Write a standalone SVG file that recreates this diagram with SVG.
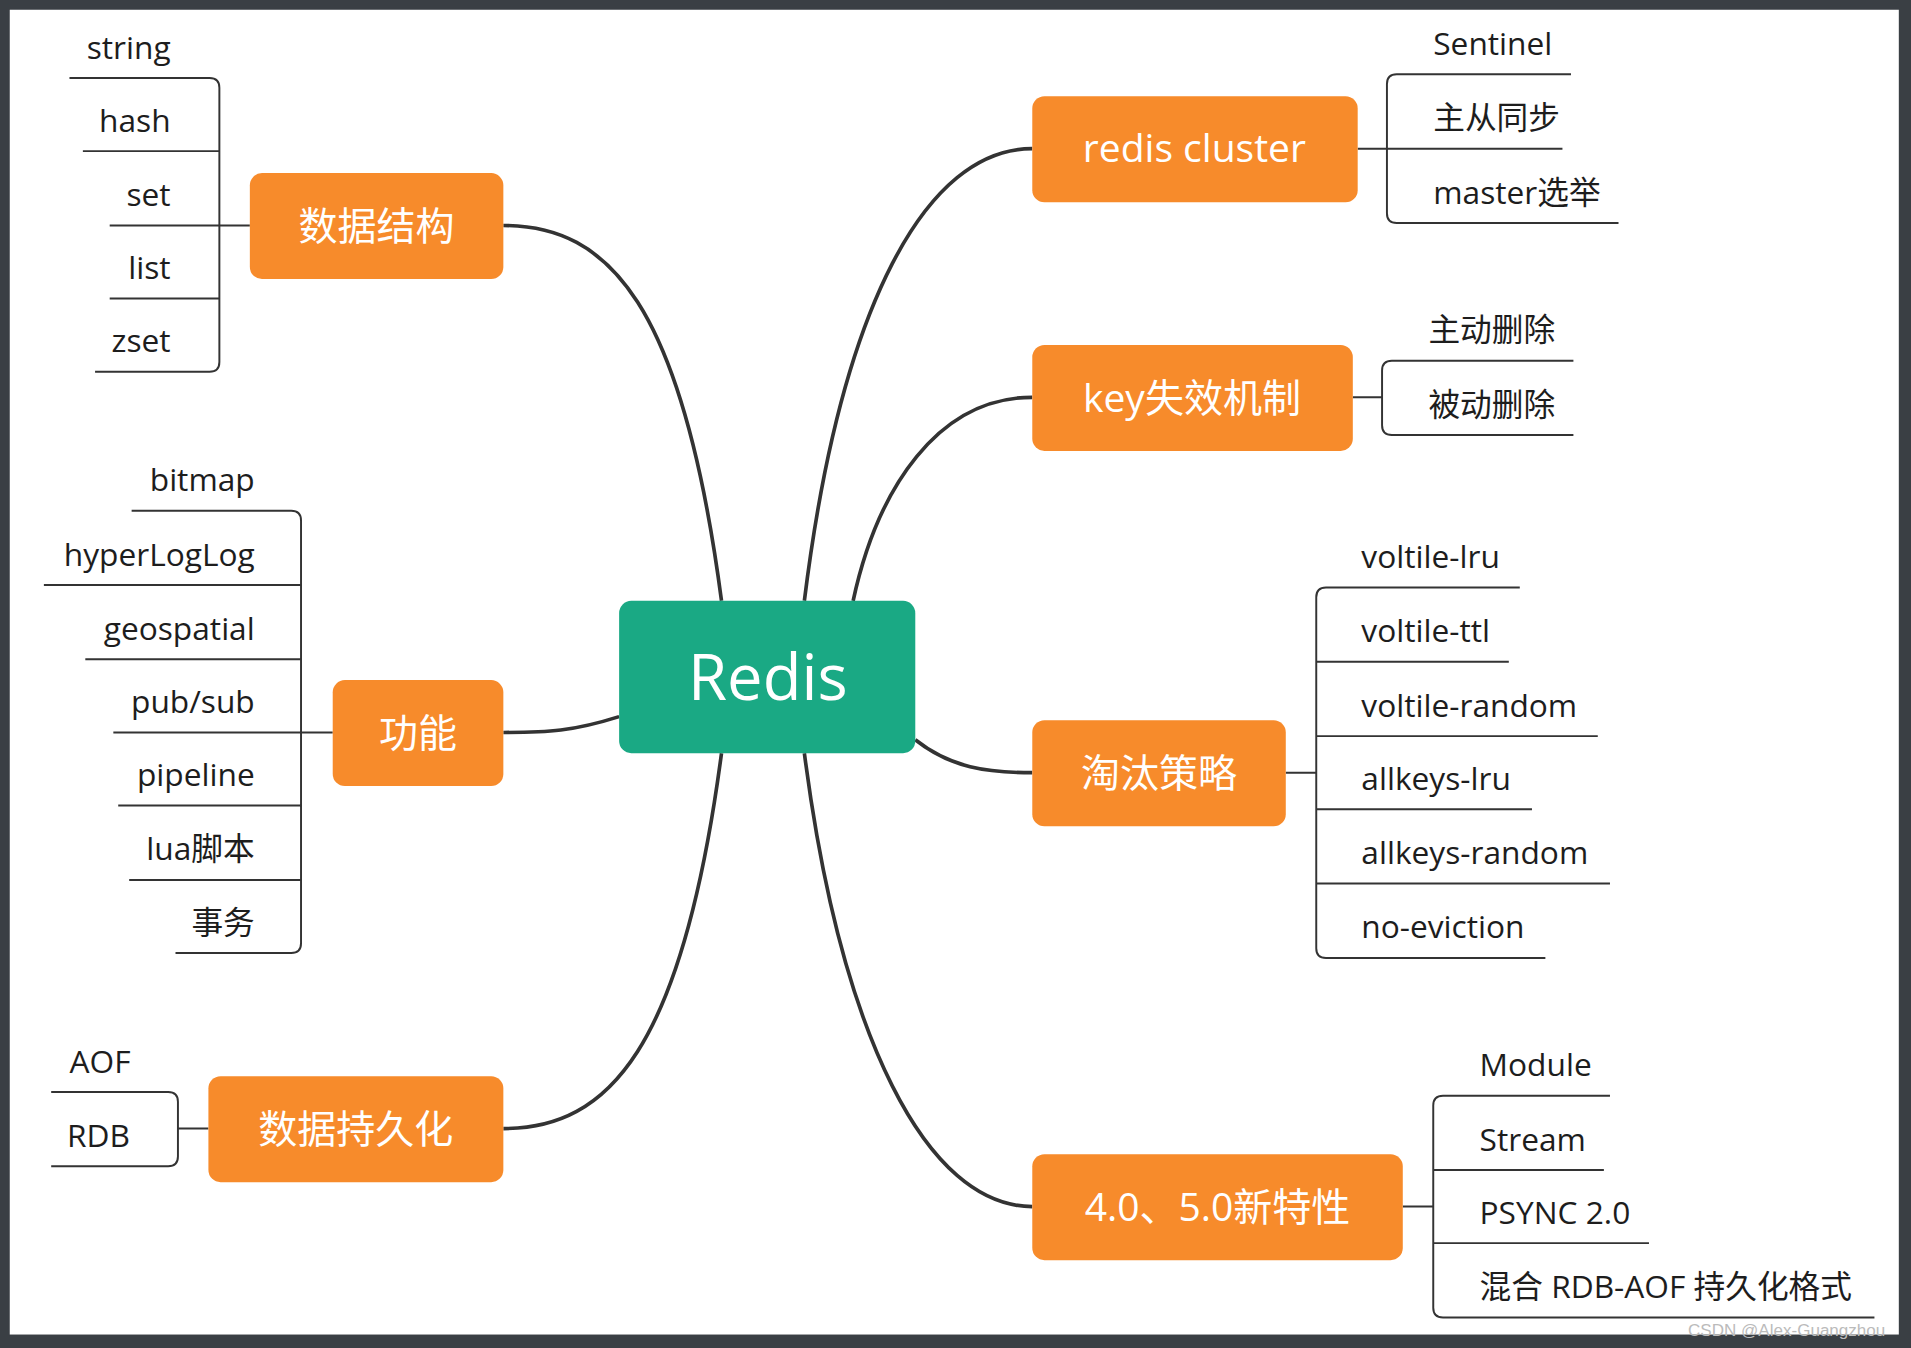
<svg xmlns="http://www.w3.org/2000/svg" width="1911" height="1348" viewBox="0 0 1911 1348">
<style>
.n{fill:#f78b2b}
.nt{fill:#fff;font-family:"Open Sans","Noto Sans CJK SC",sans-serif;font-size:32px;text-anchor:middle}
.big{font-size:52px}
.l{fill:#1d1d1d;font-family:"Open Sans","Noto Sans CJK SC",sans-serif;font-size:26px}
.r{text-anchor:end}
.c{fill:none;stroke:#333;stroke-width:3}
.b{fill:none;stroke:#333;stroke-width:1.6}
</style>
<rect width="1911" height="1348" fill="#3a3f44"/>
<g transform="scale(1.21875)">
<rect x="8" y="8" width="1550" height="1087" fill="#fff"/>
<g id="connectors">
<path class="c" d="M592,493 C560,250 500,185 413,185"/>
<path class="c" d="M508,588 C470,600 450,601 413,601"/>
<path class="c" d="M592,618 C560,860 500,926 413,926"/>
<path class="c" d="M660,493 C690,250 760,122 847,122"/>
<path class="c" d="M700,493 C720,400 770,326 847,326"/>
<path class="c" d="M751,607 C780,630 810,634 847,634"/>
<path class="c" d="M660,618 C690,850 760,990 847,990"/>
<path class="b" d="M57,64 H172 Q180,64 180,72 V297 Q180,305 172,305 H78 M68,124 H180 M90,185 H205 M90,245 H180"/>
<path class="b" d="M108,419 H239 Q247,419 247,427 V774 Q247,782 239,782 H144 M36,480 H247 M70,541 H247 M93,601 H273 M97,661 H247 M106,722 H247"/>
<path class="b" d="M42,896 H138 Q146,896 146,904 V949 Q146,957 138,957 H42 M146,926 H171"/>
<path class="b" d="M1289,61 H1146 Q1138,61 1138,69 V175 Q1138,183 1146,183 H1328 M1114,122 H1282"/>
<path class="b" d="M1291,296 H1142 Q1134,296 1134,304 V349 Q1134,357 1142,357 H1291 M1110,326 H1134"/>
<path class="b" d="M1247,482 H1088 Q1080,482 1080,490 V778 Q1080,786 1088,786 H1268 M1080,543 H1238 M1080,604 H1311 M1080,664 H1257 M1080,725 H1321 M1055,634 H1080"/>
<path class="b" d="M1321,899 H1184 Q1176,899 1176,907 V1073 Q1176,1081 1184,1081 H1538 M1176,960 H1316 M1176,1020 H1353 M1151,990 H1176"/>
</g>
<g id="redis"><rect x="508" y="493" width="243" height="125" rx="10" fill="#1aa984"/><text x="630" y="574" class="nt big">Redis</text></g>
<g id="n1"><rect class="n" x="205" y="142" width="208" height="87" rx="10"/><text class="nt" x="309" y="197">数据结构</text></g>
<g id="n2"><rect class="n" x="273" y="558" width="140" height="87" rx="10"/><text class="nt" x="343" y="613">功能</text></g>
<g id="n3"><rect class="n" x="171" y="883" width="242" height="87" rx="10"/><text class="nt" x="292" y="938">数据持久化</text></g>
<g id="n4"><rect class="n" x="847" y="79" width="267" height="87" rx="10"/><text class="nt" x="980" y="133">redis cluster</text></g>
<g id="n5"><rect class="n" x="847" y="283" width="263" height="87" rx="10"/><text class="nt" x="978" y="338">key失效机制</text></g>
<g id="n6"><rect class="n" x="847" y="591" width="208" height="87" rx="10"/><text class="nt" x="951" y="646">淘汰策略</text></g>
<g id="n7"><rect class="n" x="847" y="947" width="304" height="87" rx="10"/><text class="nt" x="999" y="1002">4.0、5.0新特性</text></g>
<g id="leaves">
<text class="l r" x="140" y="48">string</text><text class="l r" x="140" y="108">hash</text><text class="l r" x="140" y="169">set</text><text class="l r" x="140" y="229">list</text><text class="l r" x="140" y="289">zset</text>
<text class="l r" x="209" y="403">bitmap</text><text class="l r" x="209" y="464">hyperLogLog</text><text class="l r" x="209" y="525">geospatial</text><text class="l r" x="209" y="585">pub/sub</text><text class="l r" x="209" y="645">pipeline</text><text class="l r" x="209" y="706">lua脚本</text><text class="l r" x="209" y="766">事务</text>
<text class="l" x="57" y="880">AOF</text><text class="l" x="55" y="941">RDB</text>
<text class="l" x="1176" y="45">Sentinel</text><text class="l" x="1176" y="106">主从同步</text><text class="l" x="1176" y="167">master选举</text>
<text class="l" x="1172" y="280">主动删除</text><text class="l" x="1172" y="341">被动删除</text>
<text class="l" x="1117" y="466">voltile-lru</text><text class="l" x="1117" y="527">voltile-ttl</text><text class="l" x="1117" y="588">voltile-random</text><text class="l" x="1117" y="648">allkeys-lru</text><text class="l" x="1117" y="709">allkeys-random</text><text class="l" x="1117" y="770">no-eviction</text>
<text class="l" x="1214" y="883">Module</text><text class="l" x="1214" y="944">Stream</text><text class="l" x="1214" y="1004">PSYNC 2.0</text><text class="l" x="1214" y="1065">混合 RDB-AOF 持久化格式</text>
</g>
<text x="1385" y="1096" fill="#bbb" font-family="Liberation Sans,sans-serif" font-size="14">CSDN @Alex-Guangzhou</text>
</g>
</svg>
